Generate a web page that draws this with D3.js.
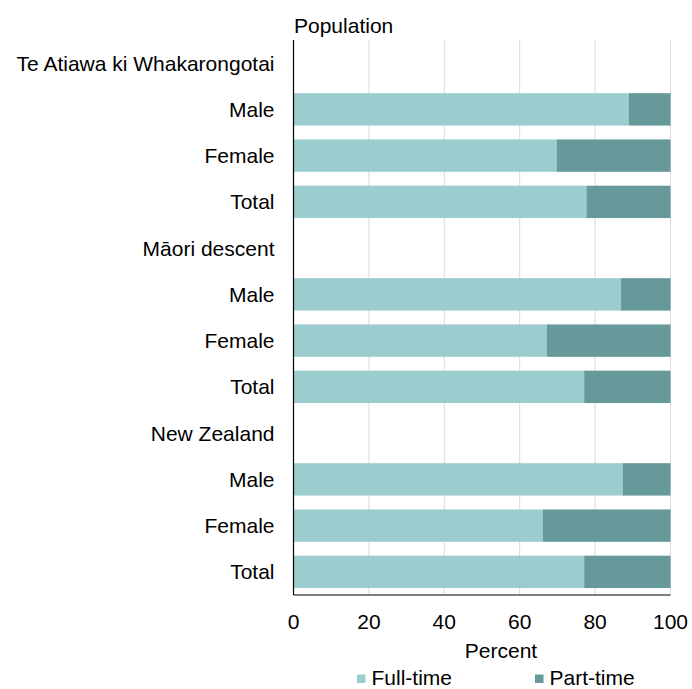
<!DOCTYPE html>
<html lang="en">
<head>
<meta charset="UTF-8">
<title>Full-time / part-time</title>
<script src="https://d3js.org/d3.v7.min.js"></script>
<style>
  body { margin: 0; padding: 0; background: #ffffff; font-family: "Liberation Sans", Arial, sans-serif; }
  text { font-family: "Liberation Sans", Arial, sans-serif; font-size: 21px; fill: #000; }
</style>
</head>
<body>
<div id="chart"></div>
<script>
  // rows top to bottom; headers have no bar
  const rows = ["Te Atiawa ki Whakarongotai", "Male", "Female", "Total",
                "Māori descent", "Male", "Female", "Total",
                "New Zealand", "Male", "Female", "Total"];
  const fullTime = [null, 88.9, 69.8, 77.7, null, 86.8, 67.2, 77.1, null, 87.3, 66.1, 77.1];
  const partTime = fullTime.map(v => v == null ? null : 100 - v);
  const seriesNames = ["Full-time", "Part-time"];
  const colors = ["#9ccdce", "#669999"];
  const xTicks = [0, 20, 40, 60, 80, 100];

  const width = 692, height = 689;
  const margin = {left: 293.5, right: 21.5, top: 40, bottom: 94};

  const svg = d3.select("#chart").append("svg")
      .attr("width", width).attr("height", height);

  const x = d3.scaleLinear().domain([0, 100]).range([margin.left, width - margin.right]);
  const y = d3.scaleBand().domain(d3.range(rows.length))
      .range([margin.top, height - margin.bottom]).paddingInner(0.3).paddingOuter(0.15);

  // gridlines
  svg.append("g").selectAll("line")
    .data(xTicks.slice(1))
    .enter().append("line")
      .attr("x1", d => x(d)).attr("x2", d => x(d))
      .attr("y1", margin.top).attr("y2", height - margin.bottom)
      .attr("stroke", "#d9d9d9").attr("stroke-width", 1);

  const data = rows.map((r, i) => ({i, full: fullTime[i], part: partTime[i]})).filter(d => d.full != null);

  svg.append("g").selectAll("rect")
    .data(data).enter().append("rect")
      .attr("x", x(0))
      .attr("y", d => y(d.i))
      .attr("width", d => x(d.full) - x(0))
      .attr("height", y.bandwidth())
      .attr("fill", colors[0]);

  svg.append("g").selectAll("rect")
    .data(data).enter().append("rect")
      .attr("x", d => x(d.full))
      .attr("y", d => y(d.i))
      .attr("width", d => x(d.full + d.part) - x(d.full))
      .attr("height", y.bandwidth())
      .attr("fill", colors[1]);

  // axis lines
  svg.append("line")
    .attr("x1", x(0)).attr("x2", x(0))
    .attr("y1", margin.top).attr("y2", height - margin.bottom)
    .attr("stroke", "#000").attr("stroke-width", 1.2);
  svg.append("line")
    .attr("x1", x(0)).attr("x2", x(100))
    .attr("y1", height - margin.bottom).attr("y2", height - margin.bottom)
    .attr("stroke", "#000").attr("stroke-width", 1.2);

  // category labels
  svg.append("g").selectAll("text")
    .data(rows).enter().append("text")
      .attr("x", 274.5)
      .attr("y", (d, i) => y(i) + y.bandwidth() / 2)
      .attr("dy", "0.36em")
      .attr("text-anchor", "end")
      .text(d => d);

  // tick labels
  svg.append("g").selectAll("text")
    .data(xTicks).enter().append("text")
      .attr("x", d => x(d))
      .attr("y", 629)
      .attr("text-anchor", "middle")
      .text(d => d);

  svg.append("text").attr("x", 501).attr("y", 658).attr("text-anchor", "middle").text("Percent");
  svg.append("text").attr("x", 294).attr("y", 33).text("Population");

  // legend
  const legendX = [357, 535];
  const lg = svg.append("g").selectAll("g")
    .data(seriesNames).enter().append("g")
      .attr("transform", (d, i) => `translate(${legendX[i]},683)`);
  lg.append("rect").attr("x", 0).attr("y", -8.5).attr("width", 8.5).attr("height", 8.5)
    .attr("fill", (d, i) => colors[i]);
  lg.append("text").attr("x", 14.5).attr("y", 1.5).text(d => d);
</script>
</body>
</html>
